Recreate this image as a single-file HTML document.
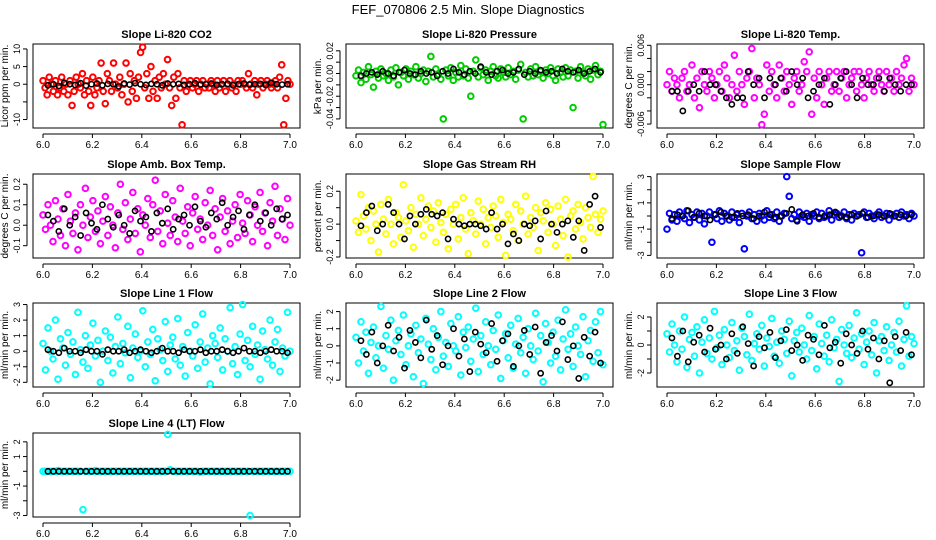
<!DOCTYPE html>
<html><head><meta charset="utf-8">
<style>
html,body{margin:0;padding:0;background:#fff;}
svg{display:block;font-family:"Liberation Sans",sans-serif;}
</style></head>
<body>
<svg id="chart" width="936" height="540" viewBox="0 0 936 540" xmlns="http://www.w3.org/2000/svg">
<text x="468" y="14" text-anchor="middle" font-size="13">FEF_070806  2.5 Min. Slope Diagnostics</text>
</svg>
<script>
const xTicks = [6.0, 6.2, 6.4, 6.6, 6.8, 7.0];
const xTickLabels = ["6.0", "6.2", "6.4", "6.6", "6.8", "7.0"];

const co2Color = [1,-1,-3,2,0,-2,1,-3,-1,2,-2,0,-3,1,-6,-2,2,0,-1,3,-3,1,-2,-6,2,-3,-1,1,6,-2,-5.5,3,1,-2,6,0,-1,2,-3,0,6,-5,3,-2,1,-4,2,9,10.5,-1,3,-4,5,-2,1,-4,2,-1,3,0,7,-1,-6,2,-4,3,-1,-11.5,1,-2,0,1,-1,0,1,-2,0,1,-1,0,-1,1,0,-2,1,-1,0,1,-2,0,1,-1,0,-2,1,0,1,0,-1,3,0,-1,1,-3,0,1,-1,0,1,0,-1,0,1,-1,2,5.5,-11.5,-4,1,0];
const co2Black = [-0.3,0,-0.5,0.4,0,-0.2,0.3,-0.4,0,0.2,-0.3,0.1,0,-0.6,0.2,-0.1,0.3,0,-0.2,0.1,0,-0.3,0.2,0,0.1,-0.2,0,0.3,-0.1,0,0.2,-0.2,0,0.1,-0.3,0,0.2,-0.1,0,0.1,-0.2,0.4,0,-0.1,0];

const presColor = [-.002,.003,-.008,.001,-.005,.006,-.001,-.012,.002,-.004,.004,-.002,.000,-.006,.003,-.003,.005,-.010,.001,-.002,.004,-.005,.002,-.001,.006,-.004,.000,.003,-.007,.002,.015,-.003,.004,-.001,-.005,-.040,.003,-.002,.005,-.006,.001,-.003,.007,-.002,.004,-.004,-.020,.002,.012,-.003,.005,-.001,.003,-.006,.002,.006,-.002,-.004,.004,.001,-.003,.005,-.001,.002,-.005,.003,.008,-.040,.001,-.003,.004,-.002,.006,-.001,.002,-.004,.003,.000,.005,-.002,-.006,.004,.001,-.003,.005,-.002,.003,-.030,.002,-.004,.006,.001,-.002,.004,-.005,.003,.007,-.001,.002,-.045];
const presBlack = [-.002,.000,.001,-.001,.002,.000,-.002,.001,.003,.000,-.001,.002,.000,.001,-.002,.002,.000,.004,.001,-.001,.002,.000,.006,.001,-.001,.002,.003,.000,.001,.004,-.001,.002,.000,.003,.001,.002,.000,.004,.002,.001,.003,.000,.002,.004,.001];

const tempColor = [.000,.002,-.001,.001,.000,-.002,.001,.002,-.001,.000,.003,-.002,.001,-.0035,.002,.000,-.001,.002,.001,-.002,.000,.002,-.001,.003,.001,-.002,.000,.0045,-.001,.002,.000,-.003,.001,.002,.0055,-.002,.001,.000,-.0061,-.0045,.003,-.001,.002,.000,-.002,.003,.001,-.001,.002,.000,-.003,.001,.002,-.001,.000,.0035,.002,.005,-.0045,.001,-.002,.002,.000,-.003,.001,.002,-.001,.000,.002,-.001,.001,.002,-.002,.000,.001,.002,-.001,.002,.000,-.002,.001,.002,.000,-.001,.001,.002,.000,-.001,.002,.000,.001,-.001,.002,.000,.001,.003,.004,-.001,.001,.000];
const tempBlack = [-.001,-.001,-.004,-.001,.000,-.001,.002,.000,.000,-.001,-.002,-.003,-.002,-.002,.002,.000,.001,-.002,.001,.000,.001,-.001,.002,.000,.001,-.002,-.001,.000,.001,-.003,.000,.001,.002,.000,-.002,.001,.000,.000,.001,-.001,.001,.000,-.001,.000,.000];

const ambColor = [.05,-.02,.10,.00,-.08,.12,.03,-.05,.08,-.10,.15,.02,-.04,.06,-.12,.10,.00,.18,-.06,.04,.12,-.03,.07,-.09,.02,.14,-.05,.09,.00,-.11,.06,.20,-.02,.11,-.07,.03,.16,-.04,.08,-.13,.05,.00,.13,-.06,.10,.22,-.03,.07,-.09,.15,.01,-.05,.12,.04,-.08,.18,.02,-.04,.09,-.10,.06,.14,-.02,.03,-.07,.11,.00,.17,-.05,.08,-.12,.04,.13,-.03,.07,-.09,.02,.10,-.06,.15,.01,-.04,.12,.05,-.08,.09,.00,.16,-.03,.06,-.10,.11,.02,.19,-.05,.08,.03,-.07,.13,.00];
const ambBlack = [.05,.02,-.03,.08,.00,.04,-.05,.06,.01,-.02,.10,.03,-.01,.05,.00,-.04,.07,.02,.04,-.03,.06,.01,.08,-.02,.03,.05,.00,.09,.02,-.01,.06,.03,.11,.00,.04,.07,-.02,.05,.10,.02,.06,.00,.08,.03,.05];

const rhColor = [.02,-.05,.18,.05,-.03,.10,-.10,.08,.00,-.17,.12,.03,-.06,.15,.00,-.12,.07,.04,-.08,.24,.02,-.04,.10,-.14,.06,.00,.16,-.07,.03,.11,-.02,.08,-.11,.13,.01,-.05,.06,-.15,.09,.00,.12,-.09,.04,.16,-.03,-.18,.07,.02,-.06,.14,.00,.09,-.12,.04,-.02,.11,.05,-.08,.15,.01,-.19,.06,.03,-.04,.12,-.10,.08,.00,.17,-.06,.04,-.02,.10,-.16,.07,.02,.13,-.05,.09,.00,-.13,.11,.03,-.07,.15,-.20,.05,.08,-.03,.12,.01,-.09,.10,.04,-.02,.29,.06,-.05,.03,.08];
const rhBlack = [-.01,.07,.11,-.04,.00,.12,.07,.00,-.09,.05,.00,.06,.09,.06,.05,.07,-.09,.03,.00,-.01,.00,.00,-.01,-.03,.07,-.03,.00,-.12,-.06,-.10,.00,-.01,.02,-.09,.08,.00,-.05,.00,.02,-.08,.02,-.16,.12,.17,-.02];

const sampleColor = [-1.0,0.2,-0.3,0.1,-0.4,0.3,0.0,-0.2,0.4,-0.5,0.1,-0.1,0.3,-0.3,0.2,-0.6,0.0,0.3,-2.0,0.1,-0.2,0.4,-0.4,0.2,0.0,-0.3,0.3,-0.1,0.1,-0.5,0.2,-2.5,0.0,0.3,-0.2,0.1,-0.4,0.2,0.0,-0.3,0.4,-0.1,0.1,-0.2,0.3,-0.4,0.0,0.2,3.0,1.5,-0.2,0.1,-0.3,0.3,0.0,-0.1,0.2,-0.4,0.1,0.0,0.3,-0.2,0.2,-0.1,0.0,0.4,-0.3,0.1,0.2,-0.1,0.0,0.3,-0.2,0.1,-0.3,0.2,0.0,0.1,-2.8,0.3,-0.1,0.2,0.0,-0.2,0.1,0.3,-0.1,0.0,0.2,-0.3,0.1,0.0,0.2,-0.1,0.3,0.0,0.1,-0.2,0.2,0.0];
const sampleBlack = [-0.2,0.1,0.0,0.4,-0.1,0.2,0.0,-0.3,0.1,0.3,0.0,-0.1,0.2,0.0,0.1,-0.2,0.0,0.3,0.1,-0.1,0.0,0.2,0.5,-0.4,0.1,0.0,0.2,-0.1,0.0,0.1,0.3,0.0,-0.1,0.1,0.0,0.2,-0.1,0.0,0.1,0.0,0.2,0.0,0.1,0.0,0.1];

const line1Color = [0.5,-1.2,1.5,0.0,-0.5,2.0,-1.8,0.8,0.2,-0.9,1.2,-0.2,0.6,-1.5,2.5,0.1,-0.7,1.0,-1.1,0.4,1.8,-0.3,0.7,-2.0,0.0,1.3,-0.6,0.9,-1.4,0.3,2.2,-0.8,0.5,-0.1,1.6,-1.7,0.2,1.1,-0.4,0.0,2.6,-1.0,0.6,-0.2,1.4,-1.9,0.8,0.1,-0.6,1.9,-1.3,0.4,0.9,-0.5,2.1,-0.9,0.3,-1.6,1.2,0.0,-0.3,1.7,-1.1,0.6,2.4,-0.7,0.2,-2.1,1.0,0.5,-0.4,1.5,-1.2,0.8,0.0,2.8,-0.8,0.3,-1.5,1.1,3.0,-0.6,0.7,-1.0,1.6,-0.2,0.4,-1.8,1.3,0.1,-0.5,2.0,-0.9,0.6,1.4,-1.3,0.2,-0.3,2.5,0.0];
const line1Black = [0.1,0.0,-0.1,0.2,0.0,0.0,-0.1,0.1,0.0,0.0,-0.2,0.1,0.0,0.0,0.1,-0.1,0.0,0.1,0.0,-0.1,0.0,0.2,0.0,0.0,-0.1,0.1,0.0,0.0,0.1,-0.1,0.0,0.0,0.1,0.0,-0.1,0.0,0.2,0.0,0.0,-0.1,0.0,0.1,0.0,0.0,-0.1];

const line2Color = [0.5,-1.0,1.4,-0.3,0.8,-1.6,0.2,1.1,-0.7,0.0,2.3,-1.3,0.6,-0.2,1.5,-2.0,0.3,0.9,-0.5,1.8,-1.1,0.0,0.7,-1.8,1.2,-0.4,0.4,-2.2,1.6,0.1,-0.8,1.0,-1.4,0.5,2.0,-0.6,0.2,-1.2,1.3,0.0,-0.3,1.7,-1.7,0.8,-0.1,1.1,-0.9,0.4,2.2,-1.5,0.6,-0.5,1.4,0.0,-1.1,0.9,-0.2,1.8,-1.9,0.3,0.7,-0.7,1.2,-1.3,0.1,1.6,-0.4,0.5,-1.6,1.0,0.0,-0.8,1.9,-0.3,0.6,-2.1,1.3,0.2,-1.0,0.8,-0.6,1.5,-1.4,0.4,2.1,-0.2,0.7,-1.2,1.1,0.0,-0.5,1.7,-1.8,0.3,0.9,-0.9,1.4,-0.4,2.0,-1.1];
const line2Black = [0.3,-0.5,0.8,-1.0,0.0,1.2,-0.3,0.5,-1.3,0.9,0.2,-0.7,1.5,-0.2,0.6,-1.1,0.0,1.0,-0.6,0.4,-1.5,0.8,0.1,-0.4,1.3,-0.9,0.3,0.7,-1.2,0.0,0.9,-0.5,1.1,-1.6,0.2,0.6,-0.3,1.4,-0.8,0.0,-1.9,0.5,-0.6,0.8,-1.0];

const line3Color = [0.8,-0.5,1.5,0.0,-1.2,1.0,-0.3,2.0,-1.6,0.4,0.9,-0.8,1.3,-2.0,0.2,1.8,-0.6,0.5,-1.0,2.4,-0.2,0.7,-1.4,1.1,0.0,-0.9,1.6,-0.4,0.3,-1.8,1.2,0.6,-0.7,2.2,-1.1,0.1,0.8,-0.3,1.4,-1.5,0.5,-0.1,1.9,-0.8,0.2,-1.3,1.0,0.4,-0.6,1.7,-2.2,0.3,0.9,-0.5,1.2,0.0,-1.0,2.1,-0.4,0.6,-1.7,1.5,0.1,-0.8,0.7,-1.2,1.8,-0.2,0.4,-2.6,1.1,0.0,-0.6,1.4,-0.9,0.5,2.3,-0.3,0.8,-1.4,0.2,1.0,-0.7,1.6,-2.0,0.3,0.6,-0.4,1.3,-1.1,0.0,0.9,-0.5,1.7,-1.5,0.4,2.8,-0.8,0.6,0.1];
const line3Black = [0.5,-0.8,1.0,-1.2,0.2,0.7,-0.5,1.2,-0.3,0.0,-1.0,0.8,-0.6,1.3,0.1,-1.5,0.6,-0.2,0.9,-0.9,0.3,1.1,-0.4,0.0,-1.1,0.7,0.4,-0.7,1.4,-0.2,0.2,-1.3,0.8,0.0,-0.6,1.0,-0.3,0.5,-1.0,0.3,-2.7,0.6,-0.4,0.9,-0.7];

const line4Color = [0,0,0,0,0,0,0.05,0,0,0,0,0,0,0,0,0,-2.6,0,0,0,0,0.05,0,0,0,0,0,0,0,0,0,0,0,0,0,0,0,0,0,0,0,0,0,0,0,0,0,0,0,0,2.5,0.1,0,0,0,0,0,0,0,0,0,0,0,-0.05,0,0,0,0,0,0,0,0,0,0,0,0,0,0,0,0,0,0,0,-3.0,0,0,0,0,0,0,0,0,0,0,0,0,0,0,0,0];
const line4Black = [0,0,0,0,0,0,0,0,0,0,0,0,0,0,0,0,0,0,0,0,0,0,0,0,0,0,0,0,0,0,0,0,0,0,0,0,0,0,0,0,0,0,0,0,0];

const panels = [
 {key:"co2",title:"Slope Li-820 CO2",ylab:"Licor ppm per min.",col:0,row:0,ymin:-12.4,ymax:11.4,ticks:[-10,-5,0,5,10],labels:["-10","","0","5","10"],color:"#ff0000",c:co2Color,b:co2Black},
 {key:"pressure",title:"Slope Li-820 Pressure",ylab:"kPa per min.",col:1,row:0,ymin:-0.048,ymax:0.026,ticks:[-0.04,-0.03,-0.02,-0.01,0,0.01,0.02],labels:["-0.04","","-0.02","","0.00","","0.02"],color:"#00cd00",c:presColor,b:presBlack},
 {key:"temp",title:"Slope Li-820 Temp.",ylab:"degrees C per min.",col:2,row:0,ymin:-0.0066,ymax:0.0062,ticks:[-0.006,-0.004,-0.002,0,0.002,0.004,0.006],labels:["-0.006","","","0.000","","","0.006"],color:"#ff00ff",c:tempColor,b:tempBlack},
 {key:"ambbox",title:"Slope Amb. Box Temp.",ylab:"degrees C per min.",col:0,row:1,ymin:-0.16,ymax:0.25,ticks:[-0.1,0,0.1,0.2],labels:["-0.1","0.0","0.1","0.2"],color:"#ff00ff",c:ambColor,b:ambBlack},
 {key:"rh",title:"Slope Gas Stream RH",ylab:"percent per min.",col:1,row:1,ymin:-0.206,ymax:0.305,ticks:[-0.2,-0.1,0,0.1,0.2],labels:["-0.2","","0.0","","0.2"],color:"#ffff00",c:rhColor,b:rhBlack},
 {key:"sample",title:"Slope Sample Flow",ylab:"ml/min per min.",col:2,row:1,ymin:-3.2,ymax:3.2,ticks:[-3,-2,-1,0,1,2,3],labels:["-3","","-1","","1","","3"],color:"#0000ff",c:sampleColor,b:sampleBlack},
 {key:"line1",title:"Slope Line 1 Flow",ylab:"ml/min per min.",col:0,row:2,ymin:-2.3,ymax:3.1,ticks:[-2,-1,0,1,2,3],labels:["-2","-1","0","1","2","3"],color:"#00ffff",c:line1Color,b:line1Black},
 {key:"line2",title:"Slope Line 2 Flow",ylab:"ml/min per min.",col:1,row:2,ymin:-2.4,ymax:2.5,ticks:[-2,-1,0,1,2],labels:["-2","-1","0","1","2"],color:"#00ffff",c:line2Color,b:line2Black},
 {key:"line3",title:"Slope Line 3 Flow",ylab:"ml/min per min.",col:2,row:2,ymin:-3.0,ymax:3.0,ticks:[-2,-1,0,1,2],labels:["-2","","0","","2"],color:"#00ffff",c:line3Color,b:line3Black},
 {key:"line4",title:"Slope Line 4 (LT) Flow",ylab:"ml/min per min.",col:0,row:3,ymin:-3.1,ymax:2.6,ticks:[-3,-2,-1,0,1,2],labels:["-3","","-1","","1","2"],color:"#00ffff",c:line4Color,b:line4Black}
];

const NS = "http://www.w3.org/2000/svg";
const svg = document.getElementById("chart");
const colLeft = [33, 346, 657];
const rowTop = [44, 174, 303, 433];
const boxW = 267, boxH = 84;

function mk(tag, parent) {
  const e = document.createElementNS(NS, tag);
  parent.appendChild(e);
  return e;
}

panels.forEach(p => {
  const L = colLeft[p.col], T = rowTop[p.row], R = L + boxW, B = T + boxH;
  const xs = v => (L + 10) + (v - 6.0) / 1.0 * (boxW - 20);
  const ys = v => B - (v - p.ymin) / (p.ymax - p.ymin) * boxH;

  const g = mk("g", svg);
  
  

  const box = mk("rect", g);
  
  
  box.setAttribute("x", L); box.setAttribute("y", T);
  box.setAttribute("width", boxW); box.setAttribute("height", boxH);
  box.setAttribute("fill", "none"); box.setAttribute("stroke", "#000"); box.setAttribute("stroke-width", "1");

  const t = mk("text", g);
  
  
  t.setAttribute("x", L + boxW / 2); t.setAttribute("y", T - 6);
  t.setAttribute("text-anchor", "middle"); t.setAttribute("font-size", "11"); t.setAttribute("font-weight", "bold");
  t.textContent = p.title;

  const xa = mk("line", g);
  
  
  xa.setAttribute("x1", xs(xTicks[0])); xa.setAttribute("x2", xs(xTicks[xTicks.length - 1]));
  xa.setAttribute("y1", B + 6); xa.setAttribute("y2", B + 6); xa.setAttribute("stroke", "#000");
  xTicks.forEach((v, i) => {
    const tk = mk("line", g);
    
    
    tk.setAttribute("x1", xs(v)); tk.setAttribute("x2", xs(v));
    tk.setAttribute("y1", B + 6); tk.setAttribute("y2", B + 10); tk.setAttribute("stroke", "#000");
    const tl = mk("text", g);
    
    
    tl.setAttribute("x", xs(v)); tl.setAttribute("y", B + 20);
    tl.setAttribute("text-anchor", "middle"); tl.setAttribute("font-size", "10");
    tl.textContent = xTickLabels[i];
  });

  const ya = mk("line", g);
  
  
  ya.setAttribute("x1", L - 6); ya.setAttribute("x2", L - 6);
  ya.setAttribute("y1", ys(p.ticks[0])); ya.setAttribute("y2", ys(p.ticks[p.ticks.length - 1])); ya.setAttribute("stroke", "#000");
  p.ticks.forEach((v, i) => {
    const tk = mk("line", g);
    
    
    tk.setAttribute("x1", L - 10); tk.setAttribute("x2", L - 6);
    tk.setAttribute("y1", ys(v)); tk.setAttribute("y2", ys(v)); tk.setAttribute("stroke", "#000");
    if (p.labels[i]) {
      const tl = mk("text", g);
      
      
      tl.setAttribute("transform", "translate(" + (L - 13) + "," + ys(v) + ") rotate(-90)");
      tl.setAttribute("text-anchor", "middle"); tl.setAttribute("font-size", "9");
      tl.textContent = p.labels[i];
    }
  });
  const yl = mk("text", g);
  
  
  yl.setAttribute("transform", "translate(" + (L - 25) + "," + (T + boxH / 2) + ") rotate(-90)");
  yl.setAttribute("text-anchor", "middle"); yl.setAttribute("font-size", "10");
  yl.textContent = p.ylab;

  const nc = p.c.length;
  p.c.forEach((v, i) => {
    const c = mk("circle", g);
    
    
    c.setAttribute("cx", xs(6.0 + i / (nc - 1)));
    c.setAttribute("cy", ys(v));
    c.setAttribute("r", "2.8"); c.setAttribute("fill", "none");
    c.setAttribute("stroke", p.color); c.setAttribute("stroke-width", "2");
  });
  const nb = p.b.length;
  p.b.forEach((v, i) => {
    const c = mk("circle", g);
    
    
    c.setAttribute("cx", xs(6.02 + 0.97 * i / (nb - 1)));
    c.setAttribute("cy", ys(v));
    c.setAttribute("r", "2.6"); c.setAttribute("fill", "none");
    c.setAttribute("stroke", "#000"); c.setAttribute("stroke-width", "1.6");
  });
});
</script>
</body></html>
